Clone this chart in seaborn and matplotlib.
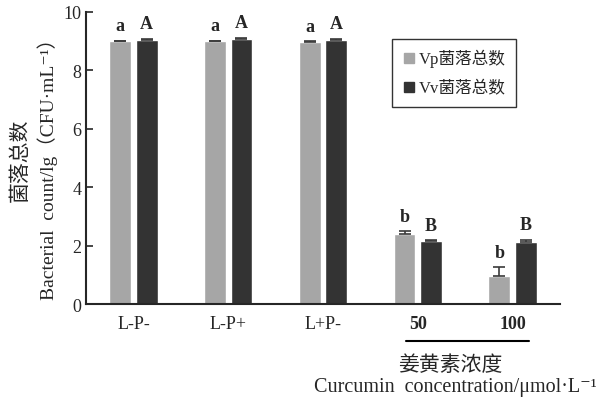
import matplotlib
matplotlib.use("Agg")
import matplotlib.pyplot as plt
from matplotlib.lines import Line2D
import numpy as np
import pandas as pd
import seaborn as sns

sns.set_style("ticks")
plt.rcParams['font.family'] = ['Liberation Serif', 'Noto Sans CJK SC', 'DejaVu Serif']

groups = ["L-P-", "L-P+", "L+P-", "50", "100"]
series = ["Vp菌落总数", "Vv菌落总数"]
vp_vals = [9.00, 9.00, 8.98, 2.40, 0.96]
vv_vals = [9.05, 9.07, 9.05, 2.16, 2.12]
vp_err = [0.02, 0.02, 0.02, 0.10, 0.30]
vv_err = [0.03, 0.05, 0.03, 0.03, 0.08]
vp_letters = ["a", "a", "a", "b", "b"]
vv_letters = ["A", "A", "A", "B", "B"]
colors = ["#a6a6a6", "#333333"]

df = pd.DataFrame({
    "group": groups * 2,
    "series": [series[0]] * 5 + [series[1]] * 5,
    "value": vp_vals + vv_vals,
})

fig = plt.figure(figsize=(6.03, 4.02), dpi=100)
ax = fig.add_axes([86/603, 1 - 305/402, 474/603, 292/402])

sns.barplot(data=df, x="group", y="value", hue="series", order=groups,
            hue_order=series, palette=colors, width=0.56, gap=0.18,
            errorbar=None, legend=False, ax=ax, saturation=1)

# error bars and significance letters, taken from the drawn bars
errs = [vp_err, vv_err]
letters = [vp_letters, vv_letters]
bar_conts = list(ax.containers)
for k, cont in enumerate(bar_conts):
    for i, p in enumerate(cont.patches):
        xc = p.get_x() + p.get_width() / 2
        h = p.get_height()
        e = errs[k][i]
        ax.errorbar(xc, h, yerr=[[0], [e]], fmt="none", ecolor="#3a3a3a",
                    elinewidth=1.2, capsize=4, capthick=1.2)
        ax.text(xc, h + e + 0.22, letters[k][i], ha="center", va="bottom",
                fontsize=13, fontweight="bold")

ax.set_xlim(-0.5, 4.5)
ax.set_ylim(0, 10)
ax.set_yticks([0, 2, 4, 6, 8, 10])
ax.tick_params(axis="y", direction="in", length=5, width=1.2, labelsize=13)
ax.tick_params(axis="x", length=0, labelsize=13, pad=8)
for lab in ax.get_xticklabels():
    if lab.get_text() in ("50", "100"):
        lab.set_fontweight("bold")
ax.set_xlabel("")
ax.set_ylabel("")
sns.despine(ax=ax)
for s in ("left", "bottom"):
    ax.spines[s].set_linewidth(1.5)

# underline beneath the concentration groups
fig.add_artist(Line2D([406/603, 529/603], [1 - 342/402, 1 - 342/402],
                      color="black", lw=1.5))

fig.text(450/603, 1 - 365/402, "姜黄素浓度", ha="center", va="center",
         fontsize=15, family=['Noto Sans CJK SC'])
fig.text(455/603, 1 - 388/402, "Curcumin  concentration/μmol·L⁻¹",
         ha="center", va="center", fontsize=14.5)

fig.text(20/603, 1 - 160/402, "菌落总数", rotation=90, ha="center",
         va="center", fontsize=15, family=['Noto Sans CJK SC'])
fig.text(48/603, 1 - 165/402, "Bacterial  count/lg（CFU·mL⁻¹）",
         rotation=90, ha="center", va="center", fontsize=14)

handles = [Line2D([], [], marker="s", linestyle="none", markersize=7,
                  markerfacecolor=c, markeredgecolor=c) for c in colors]
leg = ax.legend(handles, series, loc="upper left",
                bbox_to_anchor=((392 - 86) / 474, (305 - 40) / 292),
                borderaxespad=0, frameon=True, fancybox=False,
                handletextpad=0.2, borderpad=0.6, labelspacing=0.8,
                fontsize=12, handlelength=0.8)
leg.get_frame().set_edgecolor("black")
leg.get_frame().set_linewidth(1.0)

fig.savefig("out.png", dpi=100)
